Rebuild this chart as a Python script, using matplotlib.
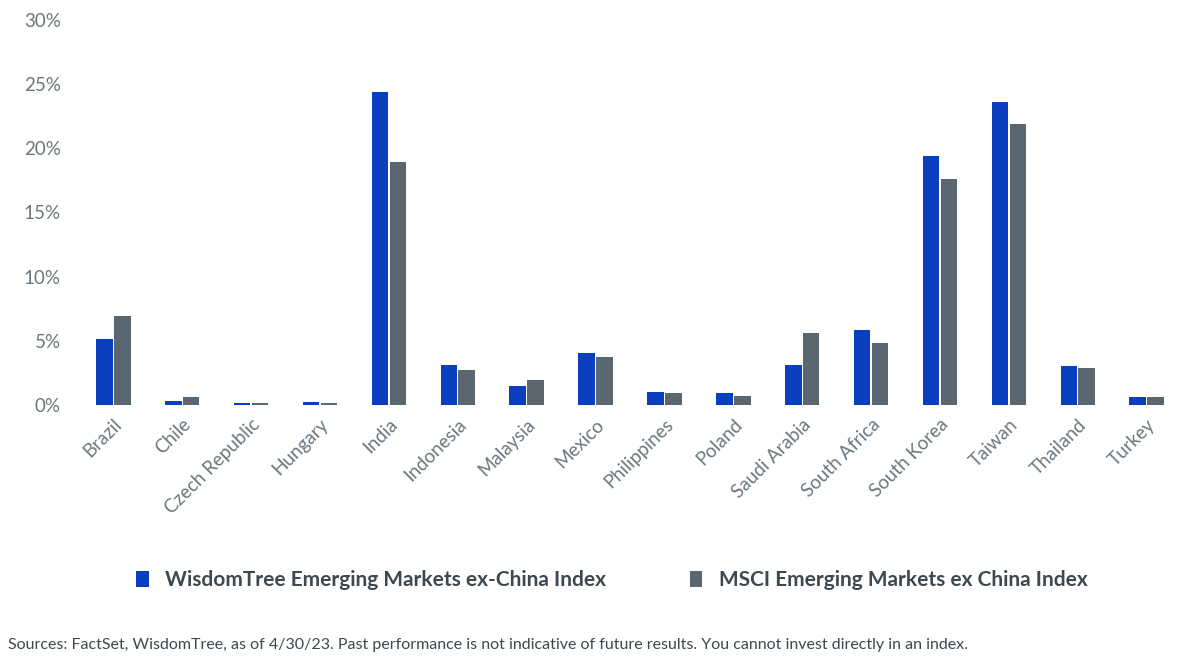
import numpy as np
import matplotlib.pyplot as plt
from matplotlib.ticker import FuncFormatter

plt.rcParams['font.family'] = ['Lato', 'DejaVu Sans']

countries = ['Brazil', 'Chile', 'Czech Republic', 'Hungary', 'India', 'Indonesia',
             'Malaysia', 'Mexico', 'Philippines', 'Poland', 'Saudi Arabia',
             'South Africa', 'South Korea', 'Taiwan', 'Thailand', 'Turkey']
wisdomtree = [5.1, 0.3, 0.1, 0.2, 24.4, 3.1, 1.5, 4.0, 1.0, 0.9, 3.1, 5.8, 19.4, 23.6, 3.0, 0.6]
msci = [6.9, 0.6, 0.1, 0.1, 18.9, 2.7, 1.9, 3.7, 0.9, 0.7, 5.6, 4.8, 17.6, 21.9, 2.9, 0.6]

blue = '#0a3fbf'
grey = '#5b6770'
txt = '#6b7780'

fig = plt.figure(figsize=(12, 6.69), dpi=100)
ax = fig.add_axes([0.06, 0.395, 0.93, 0.575])
x = np.arange(len(countries))
w = 0.24
ax.bar(x - w / 2 - 0.01, wisdomtree, w, color=blue, label='WisdomTree Emerging Markets ex-China Index')
ax.bar(x + w / 2 + 0.01, msci, w, color=grey, label='MSCI Emerging Markets ex China Index')

ax.set_ylim(0, 30)
ax.set_xlim(-0.6, len(countries) - 0.4)
ax.set_yticks(range(0, 31, 5))
ax.yaxis.set_major_formatter(FuncFormatter(lambda v, p: f'{v:.0f}%'))
ax.set_xticks(x)
ax.set_xticklabels(countries, rotation=45, ha='right', rotation_mode='anchor')
ax.tick_params(axis='both', length=0, labelsize=13.5, colors=txt, pad=8)
for s in ax.spines.values():
    s.set_visible(False)

fig.legend(loc='center', bbox_to_anchor=(0.51, 0.133), ncol=2, frameon=False,
           fontsize=15, handlelength=0.6, handleheight=0.8, columnspacing=4,
           labelcolor='#3d4850', prop={'weight': 'bold', 'size': 15})
fig.text(0.007, 0.03, 'Sources: FactSet, WisdomTree, as of 4/30/23. Past performance is not indicative of future results. '
         'You cannot invest directly in an index.', fontsize=11.5, color='#3d4850')

fig.savefig('out.png')
